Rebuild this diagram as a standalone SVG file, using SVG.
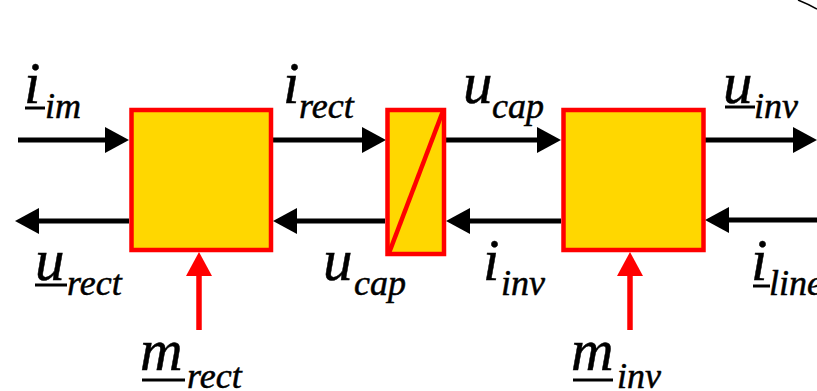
<svg xmlns="http://www.w3.org/2000/svg" width="817" height="391" viewBox="0 0 817 391">
<style>
.blk{fill:#FFD700;stroke:#FF0000;stroke-width:4.5}
.con{stroke:#000;stroke-width:5;fill:none}
.ctl{stroke:#FF0000;stroke-width:5.5;fill:none}
.ul{stroke:#000;stroke-width:3}
</style>
<defs>
<marker id="ah" markerUnits="userSpaceOnUse" markerWidth="24" markerHeight="26" refX="14" refY="13" orient="auto">
<path d="M0,0 L24,13 L0,26 z" fill="#000"/>
</marker>
<marker id="ahr" markerUnits="userSpaceOnUse" markerWidth="24" markerHeight="26" refX="14" refY="13" orient="auto">
<path d="M0,0 L24,13 L0,26 z" fill="#FF0000"/>
</marker>
</defs>
<path d="M798,0 Q808,4 817,9" stroke="#000" stroke-width="1.5" fill="none"/>
<g id="connectors">
<line class="con" x1="18" y1="140" x2="119" y2="140" marker-end="url(#ah)"/>
<line class="con" x1="273" y1="140" x2="376" y2="140" marker-end="url(#ah)"/>
<line class="con" x1="446" y1="140" x2="551" y2="140" marker-end="url(#ah)"/>
<line class="con" x1="705" y1="140" x2="807" y2="140" marker-end="url(#ah)"/>
<line class="con" x1="129" y1="221" x2="25" y2="221" marker-end="url(#ah)"/>
<line class="con" x1="385" y1="221" x2="283" y2="221" marker-end="url(#ah)"/>
<line class="con" x1="561" y1="221" x2="456" y2="221" marker-end="url(#ah)"/>
<line class="con" x1="817" y1="220" x2="715" y2="220" marker-end="url(#ah)"/>
<line class="ctl" x1="199" y1="330" x2="199" y2="262" marker-end="url(#ahr)"/>
<line class="ctl" x1="630" y1="330" x2="630" y2="262" marker-end="url(#ahr)"/>
</g>
<g id="rectifier">
<rect class="blk" x="131.5" y="110" width="139.5" height="140"/>
</g>
<g id="capacitor">
<rect class="blk" x="387.5" y="110" width="56.5" height="144"/>
<line x1="389" y1="253" x2="443" y2="111" stroke="#FF0000" stroke-width="4.5"/>
</g>
<g id="inverter">
<rect class="blk" x="563.5" y="110" width="140" height="140"/>
</g>
<g id="labels" font-family="Liberation Serif, Times New Roman, serif" font-style="italic" fill="#000" stroke="#000" stroke-width="0.5">
<text><tspan font-size="59" x="24" y="103">i</tspan><tspan font-size="36" x="45" y="118">im</tspan></text>
<text><tspan font-size="59" x="283" y="103">i</tspan><tspan font-size="36" x="299" y="118">rect</tspan></text>
<text><tspan font-size="59" x="463" y="103">u</tspan><tspan font-size="36" x="492" y="118">cap</tspan></text>
<text><tspan font-size="59" x="723" y="103">u</tspan><tspan font-size="36" x="754" y="118">inv</tspan></text>
<text><tspan font-size="59" x="35" y="280">u</tspan><tspan font-size="36" x="67" y="295">rect</tspan></text>
<text><tspan font-size="59" x="323" y="280">u</tspan><tspan font-size="36" x="354" y="295">cap</tspan></text>
<text><tspan font-size="59" x="483" y="280">i</tspan><tspan font-size="36" x="501" y="295">inv</tspan></text>
<text><tspan font-size="59" x="751" y="280">i</tspan><tspan font-size="36" x="769" y="295">line</tspan></text>
<text><tspan font-size="59" x="140" y="370">m</tspan><tspan font-size="36" x="187" y="388">rect</tspan></text>
<text><tspan font-size="59" x="571" y="370">m</tspan><tspan font-size="36" x="617" y="388">inv</tspan></text>
</g>
<g id="underlines">
<line class="ul" x1="25" y1="108" x2="45" y2="108"/>
<line class="ul" x1="725" y1="107" x2="755" y2="107"/>
<line class="ul" x1="35" y1="285" x2="67" y2="285"/>
<line class="ul" x1="753" y1="286" x2="770" y2="286"/>
<line class="ul" x1="142" y1="380" x2="185" y2="380"/>
<line class="ul" x1="573" y1="380" x2="613" y2="380"/>
</g>
</svg>
